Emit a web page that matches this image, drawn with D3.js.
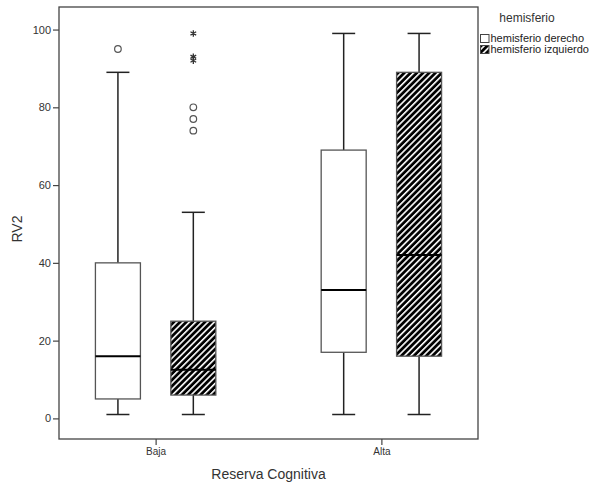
<!DOCTYPE html>
<html>
<head>
<meta charset="utf-8">
<script src="https://cdn.jsdelivr.net/npm/d3@7"></script>
<style>
  html, body { margin: 0; padding: 0; background: #fff; }
  svg { display: block; font-family: "Liberation Sans", Arial, sans-serif; }
</style>
</head>
<body>
<svg id="chart" width="591" height="487"></svg>
<script>
// Categories and groups
const categories = ["Baja", "Alta"];
const groups = ["hemisferio derecho", "hemisferio izquierdo"];

// Box statistics per category, one array per group: [min, q1, median, q3, max]
const derechoStats = [
  [1, 5, 16, 40, 89],
  [1, 17, 33, 69, 99]
];
const izquierdoStats = [
  [1, 6, 12.5, 25, 53],
  [1, 16, 42, 89, 99]
];

// Outliers (circles) and extreme values (stars)
const derechoOutliers = [[95], []];
const derechoExtremes = [[], []];
const izquierdoOutliers = [[80, 77, 74], []];
const izquierdoExtremes = [[99, 93, 92], []];

const yTicks = [0, 20, 40, 60, 80, 100];

const svg = d3.select("#chart");

const frame = { left: 59, top: 7, right: 478, bottom: 439 };

const x = d3.scalePoint().domain(categories)
  .range([frame.left, frame.right]).padding(0.428);
const y = d3.scaleLinear().domain([-5.3, 105.8])
  .range([frame.bottom, frame.top]);

const offset = 37.7;
const boxW = 45;
const capW = 23;

// Diagonal hatch pattern
const defs = svg.append("defs");
const pat = defs.append("pattern")
  .attr("id", "hatch")
  .attr("patternUnits", "userSpaceOnUse")
  .attr("width", 4.4).attr("height", 4.4)
  .attr("patternTransform", "rotate(45)");
pat.append("rect").attr("width", 4.4).attr("height", 4.4).attr("fill", "#000");
pat.append("rect").attr("x", 0).attr("width", 1.6).attr("height", 4.4).attr("fill", "#fff");

// Frame
svg.append("rect")
  .attr("x", frame.left).attr("y", frame.top)
  .attr("width", frame.right - frame.left)
  .attr("height", frame.bottom - frame.top)
  .attr("fill", "none").attr("stroke", "#444").attr("stroke-width", 1.3);

// Y axis
const yAxis = d3.axisLeft(y).tickValues(yTicks).tickSize(6).tickPadding(2);
const gy = svg.append("g").attr("transform", `translate(${frame.left},0)`).call(yAxis);
gy.select(".domain").remove();
gy.selectAll(".tick line").attr("stroke", "#444").attr("stroke-width", 1.2);
gy.selectAll(".tick text").attr("fill", "#333").style("font-size", "11px")
  .style("font-family", "Liberation Sans, Arial, sans-serif");

// X axis
const xAxis = d3.axisBottom(x).tickSize(6).tickPadding(3);
const gx = svg.append("g").attr("transform", `translate(0,${frame.bottom})`).call(xAxis);
gx.select(".domain").remove();
gx.selectAll(".tick line").attr("stroke", "#444").attr("stroke-width", 1.2);
gx.selectAll(".tick text").attr("fill", "#333").style("font-size", "10px")
  .style("font-family", "Liberation Sans, Arial, sans-serif");

// Axis titles
svg.append("text")
  .attr("transform", `translate(22,${(frame.top + frame.bottom) / 2 + 6}) rotate(-90)`)
  .attr("text-anchor", "middle")
  .attr("fill", "#333")
  .style("font-size", "14px")
  .text("RV2");

svg.append("text")
  .attr("x", (frame.left + frame.right) / 2)
  .attr("y", 479)
  .attr("text-anchor", "middle")
  .attr("fill", "#333")
  .style("font-size", "14px")
  .text("Reserva Cognitiva");

// Boxes
function drawBoxes(stats, outliers, extremes, dx, fill) {
  categories.forEach((cat, i) => {
    const [mn, q1, med, q3, mx] = stats[i];
    const cx = x(cat) + dx;
    const g = svg.append("g");
    // whiskers
    g.append("line").attr("x1", cx).attr("x2", cx)
      .attr("y1", y(q3)).attr("y2", y(mx))
      .attr("stroke", "#222").attr("stroke-width", 1.5);
    g.append("line").attr("x1", cx).attr("x2", cx)
      .attr("y1", y(q1)).attr("y2", y(mn))
      .attr("stroke", "#222").attr("stroke-width", 1.5);
    [mn, mx].forEach(v => {
      g.append("line").attr("x1", cx - capW / 2).attr("x2", cx + capW / 2)
        .attr("y1", y(v)).attr("y2", y(v))
        .attr("stroke", "#222").attr("stroke-width", 1.5);
    });
    // box
    g.append("rect")
      .attr("x", cx - boxW / 2).attr("y", y(q3))
      .attr("width", boxW).attr("height", y(q1) - y(q3))
      .attr("fill", fill).attr("stroke", "#555").attr("stroke-width", 1.3);
    // median
    g.append("line").attr("x1", cx - boxW / 2).attr("x2", cx + boxW / 2)
      .attr("y1", y(med)).attr("y2", y(med))
      .attr("stroke", "#000").attr("stroke-width", 2);
    // outliers
    outliers[i].forEach(v => {
      g.append("circle").attr("cx", cx).attr("cy", y(v)).attr("r", 3.3)
        .attr("fill", "none").attr("stroke", "#555").attr("stroke-width", 1.2);
    });
    extremes[i].forEach(v => {
      g.append("path")
        .attr("d", d3.symbol().type(d3.symbolAsterisk).size(30)())
        .attr("transform", `translate(${cx},${y(v)})`)
        .attr("fill", "none").attr("stroke", "#333").attr("stroke-width", 1.3);
    });
  });
}

drawBoxes(derechoStats, derechoOutliers, derechoExtremes, -offset, "#fff");
drawBoxes(izquierdoStats, izquierdoOutliers, izquierdoExtremes, offset, "url(#hatch)");

// Legend
const legend = svg.append("g");
legend.append("text")
  .attr("x", 527).attr("y", 22)
  .attr("text-anchor", "middle")
  .attr("fill", "#333")
  .style("font-size", "12px")
  .text("hemisferio");
const legendFills = ["#fff", "url(#hatch)"];
groups.forEach((name, i) => {
  const yy = 34 + i * 11;
  legend.append("rect")
    .attr("x", 480.5).attr("y", yy + 0.5)
    .attr("width", 8.5).attr("height", 8)
    .attr("fill", legendFills[i]).attr("stroke", "#444").attr("stroke-width", 1);
  legend.append("text")
    .attr("x", 490.5).attr("y", yy + 8)
    .attr("fill", "#222")
    .style("font-size", "11px")
    .text(name);
});
</script>
</body>
</html>
